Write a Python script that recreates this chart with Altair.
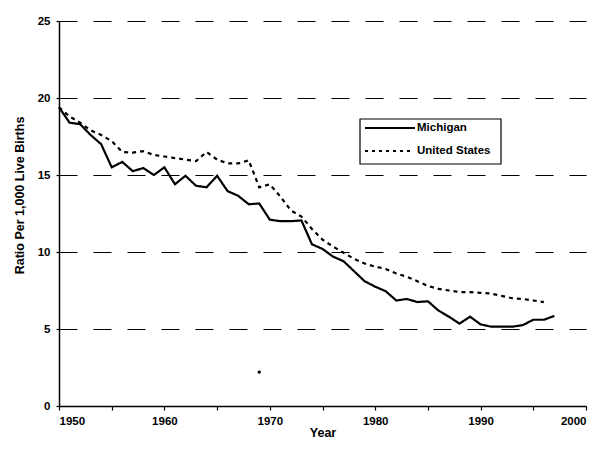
import altair as alt
import pandas as pd

years_mi = list(range(1950, 1998))
michigan = [19.4, 18.4, 18.3, 17.6, 17.0, 15.5, 15.85, 15.25, 15.45, 15.0,
            15.5, 14.4, 14.95, 14.3, 14.2, 14.95, 13.95, 13.65, 13.1, 13.15,
            12.1, 12.0, 12.0, 12.05, 10.5, 10.2, 9.7, 9.4, 8.75, 8.1,
            7.75, 7.45, 6.85, 6.95, 6.75, 6.8, 6.2, 5.8, 5.35, 5.8,
            5.3, 5.15, 5.15, 5.15, 5.25, 5.6, 5.6, 5.85]

years_us = list(range(1950, 1997))
united_states = [19.4, 18.8, 18.4, 17.9, 17.6, 17.2, 16.5, 16.45, 16.55, 16.3,
                 16.2, 16.1, 16.0, 15.9, 16.5, 16.0, 15.75, 15.75, 15.95, 14.2,
                 14.4, 13.6, 12.7, 12.3, 11.5, 10.8, 10.35, 9.95, 9.55, 9.25,
                 9.05, 8.9, 8.6, 8.4, 8.1, 7.8, 7.6, 7.5, 7.4, 7.4,
                 7.35, 7.3, 7.15, 7.0, 6.95, 6.85, 6.75]

stray_year = [1969]
stray_value = [2.2]

series_names = ["Michigan", "United States"]
series_dash = [[1, 0], [4, 4]]

x_ticks = [1950 + 2.5 * i for i in range(21)]
y_ticks = [0, 5, 10, 15, 20, 25]

df = pd.DataFrame(
    [{"Year": y, "Ratio": v, "Series": "Michigan"} for y, v in zip(years_mi, michigan)]
    + [{"Year": y, "Ratio": v, "Series": "United States"} for y, v in zip(years_us, united_states)]
)
dots = pd.DataFrame({"Year": stray_year, "Ratio": stray_value})

FONT = "Liberation Sans"

x_enc = alt.X("Year:Q",
              scale=alt.Scale(domain=[1950, 2000], nice=False, zero=False),
              axis=alt.Axis(title="Year", values=x_ticks,
                            labelExpr="datum.value % 10 == 0 ? datum.value : ''",
                            grid=False, tickSize=4, labelPadding=5,
                            titlePadding=0))
y_enc = alt.Y("Ratio:Q",
              scale=alt.Scale(domain=[0, 25], nice=False),
              axis=alt.Axis(title="Ratio Per 1,000 Live Births", values=y_ticks,
                            grid=True, gridDash=[18, 16], gridColor="#000000",
                            gridWidth=1.2, tickSize=3, labelPadding=6,
                            titlePadding=11, titleY=174))

lines = alt.Chart(df).mark_line(color="black", strokeWidth=2.2).encode(
    x=x_enc,
    y=y_enc,
    strokeDash=alt.StrokeDash(
        "Series:N",
        scale=alt.Scale(domain=series_names, range=series_dash),
        legend=None,
    ),
)

stray = alt.Chart(dots).mark_circle(color="black", size=12, opacity=1).encode(
    x="Year:Q", y="Ratio:Q"
)

# manual legend (box, samples, labels)
one = pd.DataFrame({"k": [0]})
leg_box = alt.Chart(one).mark_rect(fill="white", stroke="black", strokeWidth=1.2).encode(
    x=alt.value(301), x2=alt.value(442), y=alt.value(98), y2=alt.value(143)
)
leg_mi_line = alt.Chart(one).mark_rule(color="black", strokeWidth=2).encode(
    x=alt.value(306), x2=alt.value(356), y=alt.value(107)
)
leg_us_line = alt.Chart(one).mark_rule(color="black", strokeWidth=2, strokeDash=[3, 4]).encode(
    x=alt.value(306), x2=alt.value(354), y=alt.value(130)
)
leg_mi_text = alt.Chart(one).mark_text(
    text=series_names[0], align="left", baseline="middle", font=FONT,
    fontWeight="bold", fontSize=11.5, color="black"
).encode(x=alt.value(358), y=alt.value(107))
leg_us_text = alt.Chart(one).mark_text(
    text=series_names[1], align="left", baseline="middle", font=FONT,
    fontWeight="bold", fontSize=11.5, color="black"
).encode(x=alt.value(358), y=alt.value(130))

chart = alt.layer(
    lines, stray, leg_box, leg_mi_line, leg_us_line, leg_mi_text, leg_us_text
).properties(
    width=527, height=385,
    autosize=alt.AutoSizeParams(type="none"),
    padding={"left": 51, "top": 13, "right": 4, "bottom": 37},
    background="white",
).configure_view(stroke=None).configure_axis(
    labelFont=FONT, labelFontWeight="bold", labelFontSize=11.5, labelColor="black",
    titleFont=FONT, titleFontWeight="bold", titleFontSize=12.5, titleColor="black",
    domainColor="black", domainWidth=1.5, tickColor="black", tickWidth=1.2,
)

chart.save("out.html", embed_options={"renderer": "svg", "actions": False})
